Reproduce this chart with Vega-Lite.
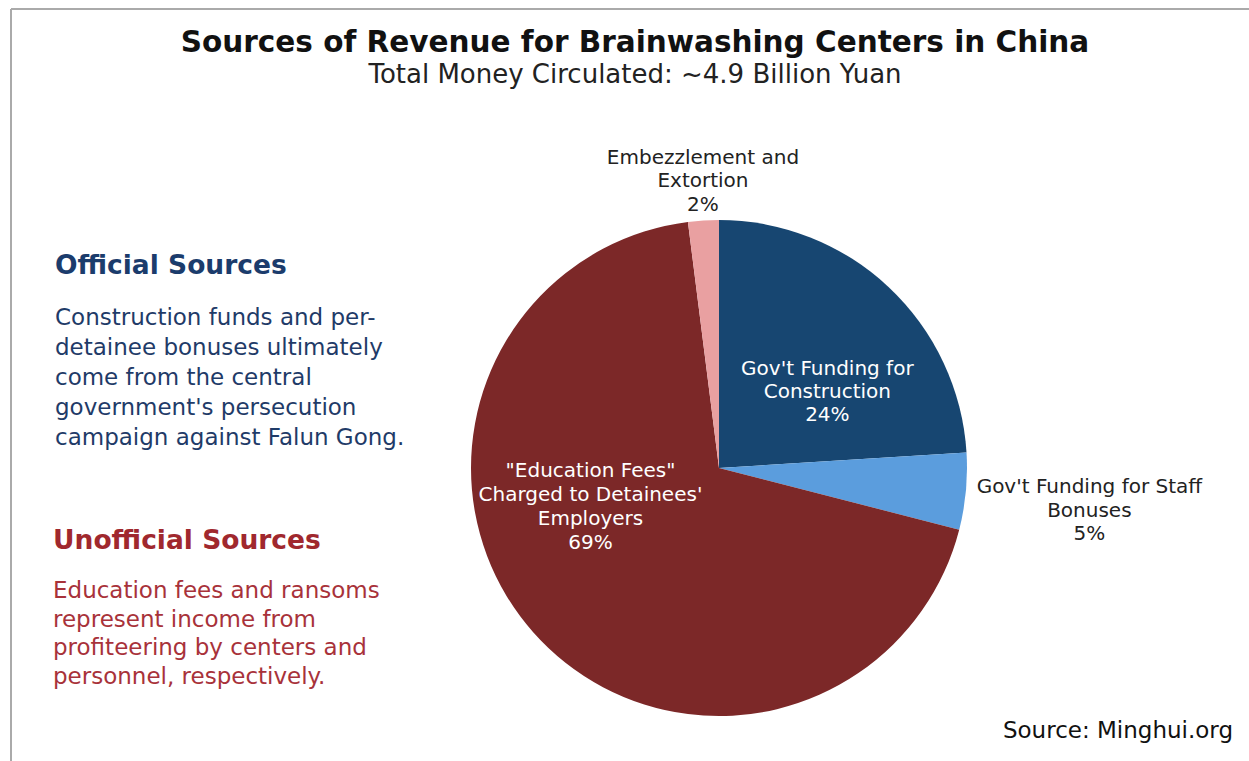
{
  "$schema": "https://vega.github.io/schema/vega-lite/v6.json",
  "width": 1249,
  "height": 761,
  "autosize": {"type": "fit", "contains": "padding"},
  "padding": 0,
  "background": "white",
  "config": {"view": {"stroke": null}, "font": "DejaVu Sans"},
  "data": {
    "values": [
      {"key": "construction", "label": "Gov't Funding for\nConstruction\n24%", "share": 24, "order": 1},
      {"key": "staff", "label": "Gov't Funding for Staff\nBonuses\n5%", "share": 5, "order": 2},
      {"key": "education", "label": "\"Education Fees\"\nCharged to Detainees'\nEmployers\n69%", "share": 69, "order": 3},
      {"key": "embezzlement", "label": "Embezzlement and\nExtortion\n2%", "share": 2, "order": 4}
    ]
  },
  "layer": [
    {
      "mark": {"type": "arc", "x": 719, "y": 468, "outerRadius": 248, "stroke": null},
      "encoding": {
        "theta": {"field": "share", "type": "quantitative", "stack": true},
        "order": {"field": "order", "type": "quantitative"},
        "color": {
          "field": "key", "type": "nominal", "legend": null,
          "scale": {"domain": ["construction", "staff", "education", "embezzlement"], "range": ["#174671", "#5b9ddd", "#7c2828", "#e9a0a1"]}
        }
      }
    },
    {
      "mark": {"type": "text", "x": 719, "y": 468, "radius": 132, "dx": 18, "dy": -3, "fontSize": 20, "lineHeight": 23, "lineBreak": "\n", "align": "center", "baseline": "middle", "fill": "white"},
      "encoding": {
        "theta": {"field": "share", "type": "quantitative", "stack": true},
        "order": {"field": "order", "type": "quantitative"},
        "text": {"condition": {"test": "datum.key === 'construction'", "field": "label"}, "value": ""}
      }
    },
    {
      "mark": {"type": "text", "x": 719, "y": 468, "radius": 122, "dx": -37, "dy": -78, "fontSize": 20, "lineHeight": 24, "lineBreak": "\n", "align": "center", "baseline": "middle", "fill": "white"},
      "encoding": {
        "theta": {"field": "share", "type": "quantitative", "stack": true},
        "order": {"field": "order", "type": "quantitative"},
        "text": {"condition": {"test": "datum.key === 'education'", "field": "label"}, "value": ""}
      }
    },
    {
      "mark": {"type": "text", "x": 719, "y": 468, "radius": 372, "dx": 0, "dy": -16, "fontSize": 20, "lineHeight": 23.5, "lineBreak": "\n", "align": "center", "baseline": "middle", "fill": "#222222"},
      "encoding": {
        "theta": {"field": "share", "type": "quantitative", "stack": true},
        "order": {"field": "order", "type": "quantitative"},
        "text": {"condition": {"test": "datum.key === 'staff'", "field": "label"}, "value": ""}
      }
    },
    {
      "mark": {"type": "text", "x": 719, "y": 468, "radius": 287, "dx": 2, "dy": -24, "fontSize": 20, "lineHeight": 23.5, "lineBreak": "\n", "align": "center", "baseline": "middle", "fill": "#222222"},
      "encoding": {
        "theta": {"field": "share", "type": "quantitative", "stack": true},
        "order": {"field": "order", "type": "quantitative"},
        "text": {"condition": {"test": "datum.key === 'embezzlement'", "field": "label"}, "value": ""}
      }
    },
    {
      "data": {"values": [{}]},
      "mark": {"type": "rule", "stroke": "#aaaaaa", "strokeWidth": 2},
      "encoding": {"x": {"value": 11}, "y": {"value": 9}, "x2": {"value": 1249}, "y2": {"value": 9}}
    },
    {
      "data": {"values": [{}]},
      "mark": {"type": "rule", "stroke": "#aaaaaa", "strokeWidth": 2},
      "encoding": {"x": {"value": 11}, "y": {"value": 9}, "x2": {"value": 11}, "y2": {"value": 761}}
    },
    {
      "data": {"values": [{}]},
      "mark": {"type": "text", "x": 635, "y": 43, "align": "center", "baseline": "middle", "fontSize": 29.5, "fontWeight": "bold", "fill": "#111111", "text": "Sources of Revenue for Brainwashing Centers in China"},
      "encoding": {}
    },
    {
      "data": {"values": [{}]},
      "mark": {"type": "text", "x": 635, "y": 75, "align": "center", "baseline": "middle", "fontSize": 26, "fill": "#222222", "text": "Total Money Circulated: ~4.9 Billion Yuan"},
      "encoding": {}
    },
    {
      "data": {"values": [{}]},
      "mark": {"type": "text", "x": 55, "y": 266, "align": "left", "baseline": "middle", "fontSize": 26.5, "fontWeight": "bold", "fill": "#1b3c6c", "text": "Official Sources"},
      "encoding": {}
    },
    {
      "data": {"values": [{}]},
      "mark": {"type": "text", "x": 55, "y": 318, "align": "left", "baseline": "middle", "fontSize": 23, "lineHeight": 30, "fill": "#1f3b68", "text": ["Construction funds and per-", "detainee bonuses ultimately", "come from the central", "government's persecution", "campaign against Falun Gong."]},
      "encoding": {}
    },
    {
      "data": {"values": [{}]},
      "mark": {"type": "text", "x": 53, "y": 541, "align": "left", "baseline": "middle", "fontSize": 26.5, "fontWeight": "bold", "fill": "#a0282e", "text": "Unofficial Sources"},
      "encoding": {}
    },
    {
      "data": {"values": [{}]},
      "mark": {"type": "text", "x": 53, "y": 591, "align": "left", "baseline": "middle", "fontSize": 23, "lineHeight": 28.5, "fill": "#a8323a", "text": ["Education fees and ransoms", "represent income from", "profiteering by centers and", "personnel, respectively."]},
      "encoding": {}
    },
    {
      "data": {"values": [{}]},
      "mark": {"type": "text", "x": 1233, "y": 731, "align": "right", "baseline": "middle", "fontSize": 23, "fill": "#111111", "text": "Source: Minghui.org"},
      "encoding": {}
    }
  ]
}
